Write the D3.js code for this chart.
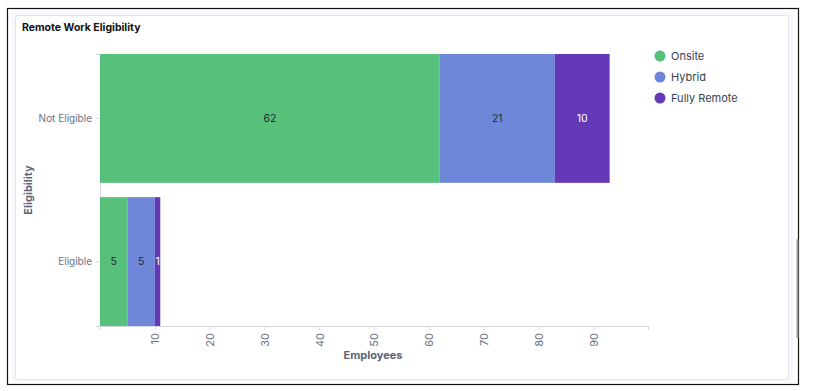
<!DOCTYPE html>
<html>
<head>
<meta charset="utf-8">
<script src="https://cdn.jsdelivr.net/npm/d3@7"></script>
<style>
  body { margin: 0; background: #fff; font-family: Inter, "Noto Sans", sans-serif; }
</style>
</head>
<body>
<div class="chart"></div>
<script>
// data
var categories = ["Not Eligible", "Eligible"];
var seriesNames = ["Onsite", "Hybrid", "Fully Remote"];
var onsite = [62, 5];
var hybrid = [21, 5];
var fullyRemote = [10, 1];
var xTicks = [0, 10, 20, 30, 40, 50, 60, 70, 80, 90, 100];

var colors = ["#57c17b", "#6f87d8", "#6439b8"];
var labelColors = ["#1f2937", "#1f2937", "#ffffff"];

var svgWidth = 814, svgHeight = 391;
var margin = { left: 100, right: 166, top: 54, bottom: 65 };
var width = 648 - margin.left;
var height = 326 - margin.top;

var svg = d3.select(".chart").append("svg")
  .attr("width", svgWidth)
  .attr("height", svgHeight);

// outer frame + card
svg.append("rect").attr("x", 7.5).attr("y", 8.5).attr("width", 791).attr("height", 376)
  .attr("fill", "#fff").attr("stroke", "#111").attr("stroke-width", 1.2);
svg.append("rect").attr("x", 12).attr("y", 12).attr("width", 781).attr("height", 370)
  .attr("fill", "#f7f8fc").attr("rx", 3);
svg.append("rect").attr("x", 15.5).attr("y", 15.5).attr("width", 773).attr("height", 364)
  .attr("fill", "#fff").attr("stroke", "#e1e4ec").attr("rx", 3);
svg.append("rect").attr("x", 796.5).attr("y", 239).attr("width", 2).attr("height", 99)
  .attr("fill", "#9a9a9a");

svg.append("text").attr("x", 22).attr("y", 31)
  .attr("font-size", 10.5).attr("font-weight", 700).attr("fill", "#111")
  .text("Remote Work Eligibility");

var chartGroup = svg.append("g")
  .attr("transform", `translate(${margin.left}, ${margin.top})`);

var table = categories.map(function(c, i) {
  return { cat: c, Onsite: onsite[i], Hybrid: hybrid[i], "Fully Remote": fullyRemote[i] };
});
var stack = d3.stack().keys(seriesNames)(table);

var xScale = d3.scaleLinear().domain([0, 100]).range([0, width]);
var yScale = d3.scaleBand().domain(categories).range([0, height])
  .paddingInner(0.1).paddingOuter(0);

// axes
var bottomAxis = d3.axisBottom(xScale).tickValues(xTicks).tickSize(4)
  .tickFormat(d => (d == 0 || d == 100) ? "" : d);
var xg = chartGroup.append("g")
  .attr("transform", `translate(0, ${height})`)
  .call(bottomAxis);
xg.select(".domain").attr("stroke", "#d6d8de");
xg.selectAll(".tick line").attr("stroke", "#d6d8de");
xg.selectAll(".tick text")
  .attr("transform", "rotate(-90)")
  .attr("text-anchor", "end")
  .attr("x", -7).attr("y", 0).attr("dy", "0.35em")
  .attr("font-size", 11).attr("font-family", "Inter, sans-serif").attr("fill", "#6b7280");

var leftAxis = d3.axisLeft(yScale).tickSize(4).tickPadding(4);
var yg = chartGroup.append("g").call(leftAxis);
yg.select(".domain").attr("stroke", "#d6d8de");
yg.selectAll(".tick line").attr("stroke", "#d6d8de");
yg.selectAll(".tick text")
  .attr("font-size", 10).attr("font-family", "Inter, sans-serif").attr("fill", "#6b7280");

// bars
stack.forEach(function(layer, k) {
  var g = chartGroup.append("g");
  g.selectAll("rect")
    .data(layer)
    .enter()
    .append("rect")
    .attr("x", d => xScale(d[0]))
    .attr("y", d => yScale(d.data.cat))
    .attr("width", d => xScale(d[1]) - xScale(d[0]))
    .attr("height", yScale.bandwidth())
    .attr("fill", colors[k]);
  g.selectAll("text")
    .data(layer)
    .enter()
    .append("text")
    .attr("x", d => (xScale(d[0]) + xScale(d[1])) / 2)
    .attr("y", d => yScale(d.data.cat) + yScale.bandwidth() / 2)
    .attr("dy", "0.35em")
    .attr("text-anchor", "middle")
    .attr("font-size", 10.5)
    .attr("fill", labelColors[k])
    .text(d => d[1] - d[0]);
});

// axis titles
chartGroup.append("text")
  .attr("x", width / 2 - 1).attr("y", height + 33)
  .attr("text-anchor", "middle")
  .attr("font-size", 11).attr("font-weight", 700).attr("fill", "#5b6478")
  .text("Employees");
chartGroup.append("text")
  .attr("transform", `translate(${-68}, ${height / 2}) rotate(-90)`)
  .attr("text-anchor", "middle")
  .attr("font-size", 11).attr("font-weight", 700).attr("fill", "#5b6478")
  .text("Eligibility");

// legend
var legend = svg.append("g").attr("transform", "translate(660, 56)");
seriesNames.forEach(function(name, i) {
  legend.append("circle").attr("cx", 0).attr("cy", i * 21).attr("r", 5.5).attr("fill", colors[i]);
  legend.append("text").attr("x", 11).attr("y", i * 21).attr("dy", "0.35em")
    .attr("font-size", 11).attr("fill", "#374151").text(name);
});
</script>
</body>
</html>
